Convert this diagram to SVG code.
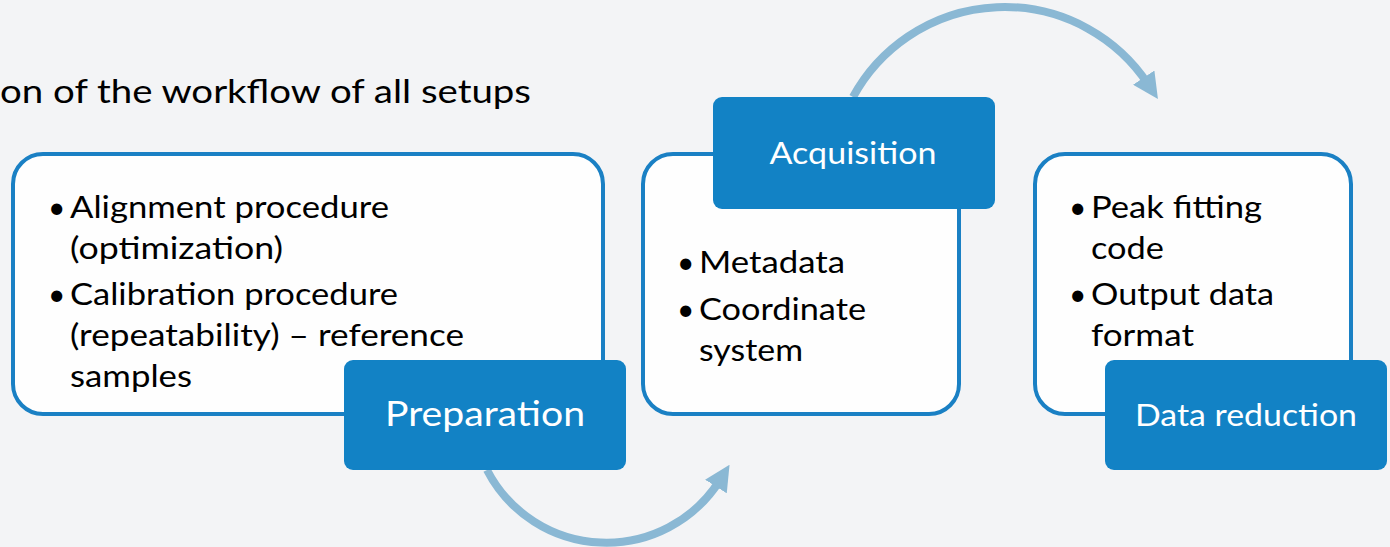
<svg xmlns="http://www.w3.org/2000/svg" width="1390" height="547" viewBox="0 0 1390 547">
<defs>
<style>
.card{fill:#fefefe;stroke:#1a80c4;stroke-width:4}
.tag{fill:#1282c5}
.body{font-family:Lato,"Liberation Sans",sans-serif;font-size:30px;fill:#000}
.lbl{font-family:Lato,"Liberation Sans",sans-serif;fill:#fff;text-anchor:middle}
.conn{fill:none;stroke:#8ab8d4;stroke-width:8}
</style>
<marker id="ah" viewBox="0 0 10 10" refX="3" refY="5" markerWidth="3.2" markerHeight="3.2" orient="auto" markerUnits="strokeWidth">
<path d="M0,0 L10,5 L0,10 z" fill="#8ab8d4"/>
</marker>
</defs>
<rect width="1390" height="547" fill="#f3f4f6"/>
<text x="0" y="103" font-family="Lato,'Liberation Sans',sans-serif" font-size="32" textLength="531" lengthAdjust="spacingAndGlyphs">on of the workflow of all setups</text>
<g id="connectors">
<path class="conn" d="M487,470 A134.3,134.3 0 0 0 720,480" marker-end="url(#ah)"/>
<path class="conn" d="M853,97 A172.4,172.4 0 0 1 1148,84" marker-end="url(#ah)"/>
</g>
<g id="preparation">
<rect class="card" x="13" y="154" width="590" height="260" rx="30"/>
<text class="body"><tspan x="48" y="218">•</tspan><tspan x="70" y="218" textLength="319" lengthAdjust="spacingAndGlyphs">Alignment procedure</tspan><tspan x="70" y="259" textLength="213" lengthAdjust="spacingAndGlyphs">(optimization)</tspan><tspan x="48" y="305">•</tspan><tspan x="70" y="305" textLength="328" lengthAdjust="spacingAndGlyphs">Calibration procedure</tspan><tspan x="70" y="346" textLength="394" lengthAdjust="spacingAndGlyphs">(repeatability) – reference</tspan><tspan x="70" y="387" textLength="122" lengthAdjust="spacingAndGlyphs">samples</tspan></text>
<rect class="tag" x="344" y="360" width="282" height="110" rx="9"/>
<text class="lbl" x="485" y="426" font-size="34" textLength="200" lengthAdjust="spacingAndGlyphs">Preparation</text>
</g>
<g id="acquisition">
<rect class="card" x="643" y="154" width="316" height="260" rx="30"/>
<text class="body"><tspan x="677" y="273">•</tspan><tspan x="699" y="273" textLength="146" lengthAdjust="spacingAndGlyphs">Metadata</tspan><tspan x="677" y="320">•</tspan><tspan x="699" y="320" textLength="167" lengthAdjust="spacingAndGlyphs">Coordinate</tspan><tspan x="699" y="361" textLength="104" lengthAdjust="spacingAndGlyphs">system</tspan></text>
<rect class="tag" x="713" y="97" width="282" height="112" rx="9"/>
<text class="lbl" x="853" y="164" font-size="31" textLength="167" lengthAdjust="spacingAndGlyphs">Acquisition</text>
</g>
<g id="data-reduction">
<rect class="card" x="1035" y="154" width="316" height="260" rx="30"/>
<text class="body"><tspan x="1069" y="218">•</tspan><tspan x="1091" y="218" textLength="171" lengthAdjust="spacingAndGlyphs">Peak fitting</tspan><tspan x="1091" y="259" textLength="73" lengthAdjust="spacingAndGlyphs">code</tspan><tspan x="1069" y="305">•</tspan><tspan x="1091" y="305" textLength="183" lengthAdjust="spacingAndGlyphs">Output data</tspan><tspan x="1091" y="346" textLength="103" lengthAdjust="spacingAndGlyphs">format</tspan></text>
<rect class="tag" x="1105" y="360" width="282" height="110" rx="9"/>
<text class="lbl" x="1246" y="426" font-size="30" textLength="222" lengthAdjust="spacingAndGlyphs">Data reduction</text>
</g>
</svg>
